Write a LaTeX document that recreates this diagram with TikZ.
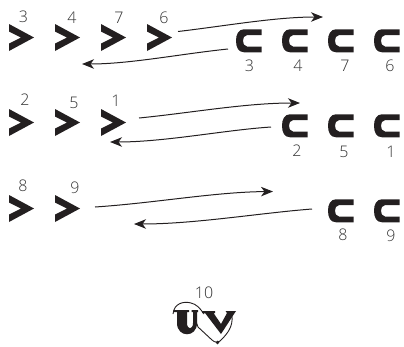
\documentclass[tikz,border=0pt]{standalone}
\usepackage{fontspec}
\setmainfont{Open Sans Light}
\usetikzlibrary{arrows.meta}
\definecolor{ink}{HTML}{231F20}
\definecolor{lab}{HTML}{333333}
\tikzset{
  x=1pt,y=-1pt,
  lbl/.style={text=lab,font=\fontsize{16}{17}\selectfont,inner sep=0pt},
  conn/.style={draw=ink,line width=1pt,-{Stealth[length=12pt,width=9.5pt,inset=3.5pt]}},
  chevron/.pic={\fill[ink] (0,0)--(25,13.5)--(0,27)--(0,19.5)--(12,13.5)--(0,7.5)--cycle;},
  cshape/.pic={\fill[ink] (25.5,0)--(8,0) .. controls (2.5,0) and (0,5) .. (0,11.5) .. controls (0,18) and (2.5,23) .. (8,23)--(25.5,23)--(25.5,17.2)--(11,17.2) .. controls (8,17.2) and (7,14) .. (7,11.5) .. controls (7,9) and (8,5.8) .. (11,5.8)--(25.5,5.8)--cycle;}
}
\begin{document}
\begin{tikzpicture}
\useasboundingbox (0,0) rectangle (404,346);
\foreach \x in {9,55,101,147}{\pic at (\x,24) {chevron};}
\foreach \x in {236,282,328,374}{\pic at (\x,29.3) {cshape};}
\node[lbl] (t3) at (23.5,17) {3};
\node[lbl] (t4) at (72,18) {4};
\node[lbl] (t7) at (119,18) {7};
\node[lbl] (t6) at (164,18) {6};
\node[lbl] (b3) at (249.5,66) {3};
\node[lbl] (b4) at (298,66) {4};
\node[lbl] (b7) at (345,66) {7};
\node[lbl] (b6) at (390,66) {6};
\foreach \x in {9,55,101}{\pic at (\x,109) {chevron};}
\foreach \x in {282,328,374}{\pic at (\x,114.3) {cshape};}
\node[lbl] (t2) at (25,100) {2};
\node[lbl] (t5) at (74,103) {5};
\node[lbl] (t1) at (116,101) {1};
\node[lbl] (b2) at (297,151) {2};
\node[lbl] (b5) at (344,152) {5};
\node[lbl] (b1) at (391,152) {1};
\foreach \x in {9,55}{\pic at (\x,195) {chevron};}
\foreach \x in {328,374}{\pic at (\x,199.3) {cshape};}
\node[lbl] (t8) at (23,186) {8};
\node[lbl] (t9) at (75,188) {9};
\node[lbl] (b8) at (343,235) {8};
\node[lbl] (b9) at (391,236) {9};
\coordinate (a1) at (178,31.5); \coordinate (a2) at (323,17);
\coordinate (c1) at (228,49); \coordinate (c2) at (82,64);
\coordinate (d1) at (139,118); \coordinate (d2) at (300,103);
\coordinate (e1) at (271,127); \coordinate (e2) at (110,142);
\coordinate (f1) at (95,207); \coordinate (f2) at (273,191.5);
\coordinate (g1) at (312,209); \coordinate (g2) at (134,224);
\draw[conn] (a1) .. controls (225,26) and (275,17) .. (a2);
\draw[conn] (c1) .. controls (180,54) and (130,64) .. (c2);
\draw[conn] (d1) .. controls (190,113) and (245,103) .. (d2);
\draw[conn] (e1) .. controls (225,130) and (165,142) .. (e2);
\draw[conn] (f1) .. controls (155,203) and (215,192) .. (f2);
\draw[conn] (g1) .. controls (260,213) and (195,224) .. (g2);
% logo
\node[lbl] (t10) at (204,292.5) {10};
\draw[ink,line width=0.9pt] (173,314) .. controls (174,303) and (184,301) .. (191,303) .. controls (196,304) and (200,308) .. (204,314);
\draw[ink,line width=0.9pt] (196,321) -- (198,327) -- (212,340) .. controls (215,343) and (219,343) .. (222,339) .. controls (228,333) and (233,326) .. (232,316);
\fill[ink] (173.5,310)--(189,310)--(189,312)--(187,312)--(187,323) .. controls (187,330) and (193,330) .. (193,323)--(193,312)--(191.5,312)--(191.5,310)--(198,310)--(198,312)--(197,312)--(197,323) .. controls (197,338) and (177,338) .. (177,323)--(177,312)--(173.5,312)--cycle;
\fill[ink] (202,311)--(215,311)--(215,313)--(213.5,313)--(221,324)--(227,313)--(225.5,311)--(236,311)--(221,334)--(205,313)--(202,313)--cycle;
\fill[ink] (217.5,342.5) circle (1.8);
\end{tikzpicture}
\end{document}
